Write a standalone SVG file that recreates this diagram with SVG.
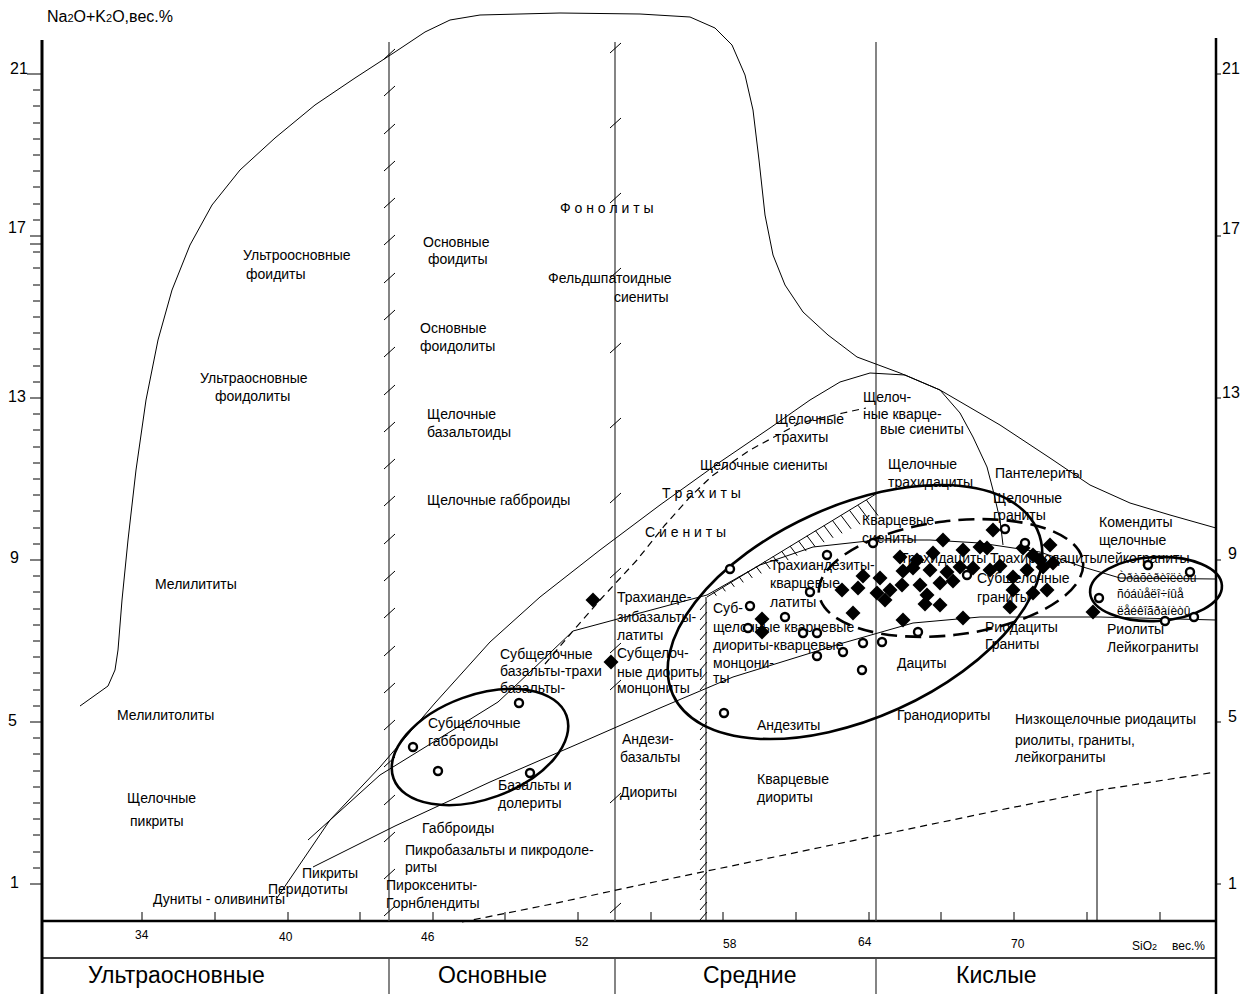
<svg xmlns="http://www.w3.org/2000/svg" width="1249" height="994" viewBox="0 0 1249 994">
<style>
text{font-family:"Liberation Sans",Arial,sans-serif;fill:#000}
.l{font-size:14px}
.s{font-size:12px}
.ax{font-size:16px}
.big{font-size:23px}
.thin{fill:none;stroke:#000;stroke-width:1}
.grid{fill:none;stroke:#444;stroke-width:1.3}
.dash{fill:none;stroke:#000;stroke-width:1.2;stroke-dasharray:7 5}
.ell{fill:none;stroke:#000;stroke-width:2.6}
.elld{fill:none;stroke:#000;stroke-width:2.6;stroke-dasharray:16 8}
.dm{fill:#000}
.ci{fill:#fff;stroke:#000;stroke-width:2.4}
</style>
<defs>
<polygon id="d" points="0,-7.5 7.5,0 0,7.5 -7.5,0"/>
<circle id="c" r="4"/>
</defs>
<rect width="1249" height="994" fill="#fff"/>

<g id="axes">
<line x1="42" y1="40" x2="42" y2="994" stroke="#000" stroke-width="3"/>
<line x1="1216" y1="38" x2="1216" y2="994" stroke="#000" stroke-width="2.5"/>
<line x1="42" y1="921" x2="1216" y2="921" stroke="#000" stroke-width="2.5"/>
<line x1="42" y1="958" x2="1216" y2="958" stroke="#000" stroke-width="1.5"/>
<path class="thin" d="M27,74H43M30,236H43M30,244H43M30,398H43M30,560H43M30,722H43M30,884H43"/>
<path class="thin" d="M33,90H40M33,106H40M33,123H40M33,139H40M33,155H40M33,171H40M33,187H40M33,204H40M33,220H40M33,252H40M33,268H40M33,285H40M33,301H40M33,317H40M33,333H40M33,349H40M33,366H40M33,382H40M33,414H40M33,430H40M33,447H40M33,463H40M33,479H40M33,495H40M33,511H40M33,528H40M33,544H40M33,576H40M33,592H40M33,609H40M33,625H40M33,641H40M33,657H40M33,673H40M33,690H40M33,706H40M33,738H40M33,754H40M33,771H40M33,787H40M33,803H40M33,819H40M33,835H40M33,852H40M33,868H40"/>
<path class="thin" d="M1216,74H1221M1216,236H1221M1216,398H1221M1216,560H1221M1216,722H1221M1216,884H1221"/>
<path class="thin" d="M142,912V921M215,912V921M288,912V921M360,912V921M433,912V921M505,912V921M578,912V921M651,912V921M723,912V921M796,912V921M869,912V921M941,912V921M1014,912V921M1087,912V921M1160,912V921"/>
<text class="ax" x="47" y="22">Na<tspan font-size="11">2</tspan>O+K<tspan font-size="11">2</tspan>O,вес.%</text>
<text class="ax" x="10" y="74">21</text>
<text class="ax" x="8" y="233">17</text>
<text class="ax" x="8" y="402">13</text>
<text class="ax" x="10" y="563">9</text>
<text class="ax" x="8" y="726">5</text>
<text class="ax" x="10" y="888">1</text>
<text class="ax" x="1222" y="74">21</text>
<text class="ax" x="1222" y="234">17</text>
<text class="ax" x="1222" y="398">13</text>
<text class="ax" x="1228" y="559">9</text>
<text class="ax" x="1228" y="722">5</text>
<text class="ax" x="1228" y="889">1</text>
<text class="s" x="135" y="939">34</text>
<text class="s" x="279" y="941">40</text>
<text class="s" x="421" y="941">46</text>
<text class="s" x="575" y="946">52</text>
<text class="s" x="723" y="948">58</text>
<text class="s" x="858" y="946">64</text>
<text class="s" x="1011" y="948">70</text>
<text class="s" x="1132" y="950">SiO<tspan font-size="9">2</tspan></text>
<text class="s" x="1172" y="950">вес.%</text>
<text class="big" x="88" y="983">Ультраосновные</text>
<text class="big" x="438" y="983">Основные</text>
<text class="big" x="703" y="983">Средние</text>
<text class="big" x="956" y="983">Кислые</text>
</g>

<g id="verticals">
<path class="grid" d="M389,42V921M389,958V994M615,42V921M615,958V994M876,42V921M876,958V994"/>
<path class="thin" d="M1097,790V921"/>
<path class="thin" d="M384,59L395,49M384,96L395,86M384,134L395,124M384,171L395,161M384,208L395,198M384,245L395,235M384,283L395,273M384,320L395,310M384,357L395,347M384,395L395,385M384,432L395,422M384,469L395,459M384,506L395,496M384,544L395,534M384,581L395,571M384,618L395,608M384,656L395,646M384,693L395,683M384,730L395,720M384,767L395,757M384,805L395,795M384,842L395,832M384,879L395,869M384,916L395,906"/>
<path class="thin" d="M610,53L621,43M610,128L621,118M610,203L621,193M610,278L621,268M610,353L621,343M610,428L621,418M610,503L621,493M610,578L621,568M610,653L621,643M610,690L621,680M610,803L621,793M610,913L621,903"/>
</g>

<g id="boundaries">
<path class="thin" d="M80,706L108,686L115,670L118,650L122,600L128,540L136,470L146,400L158,340L172,290L190,245L212,205L240,170L275,138L315,105L355,78L395,52L425,32L450,20L480,15L560,13L640,14L690,17L715,28L732,45L745,75L753,110L759,160L765,215L773,255L785,285L803,312L828,335L857,357L900,373L940,390L1000,425L1050,458L1090,485L1130,503L1170,515L1216,528"/>
<path class="thin" d="M277,898L330,820L380,767L435,703L490,642L540,597L600,550L660,505L720,462L770,428L810,400L840,382L870,373L905,375L940,390"/>
<path class="thin" d="M940,390L960,413L973,437L987,467L993,490L1000,520L1003,545"/>
<path class="dash" d="M545,664L573,631L600,600L637,560L665,525L690,497L712,476L750,450L800,423L843,413L866,408"/>
<path class="thin" d="M308,840L380,775L440,738L498,702L530,672L573,631L707,595"/>
<path class="thin" d="M707,595L760,565L813,547L877,540L930,540L980,543L1040,552L1083,567L1120,578L1216,579"/>
<path class="thin" d="M313,867L395,826L490,782L580,743L660,708L733,677L843,643L913,623L980,617L1100,617L1216,620"/>
<path class="dash" d="M462,922L547,905L640,885L760,860L880,835L1000,810L1100,790L1216,772"/>
<path class="thin" d="M707,597L876,494"/>
<path class="thin" d="M706,597V921"/>
<path class="thin" d="M713.5,591.9L716.4,595.7M722,586.8L725.4,591.3M730.5,581.7L734.3,586.8M739,576.6L743.3,582.4M747.5,571.5L752.3,577.9M756,566.4L761.3,573.4M764.5,561.3L770.3,569M773,556.2L779.2,564.5M781.5,551.1L788.2,560.1M790,546L797.2,555.6M798.5,540.9L806.2,551.1M807,535.8L815.2,546.7M815.5,530.7L824.1,542.2M824,525.6L833.1,537.8M832.5,520.5L842.1,533.3M841,515.4L851.1,528.8M849.5,510.3L860.1,524.4M858,505.2L869,519.9M866.5,500.1L878,515.5"/>
<path class="thin" d="M700,610L707,602M700,620L707,612M700,630L707,622M700,640L707,632M700,650L707,642M700,660L707,652M700,670L707,662M700,680L707,672M700,690L707,682M700,700L707,692M700,710L707,702M700,720L707,712M700,730L707,722M700,740L707,732M700,750L707,742M700,760L707,752M700,770L707,762M700,780L707,772M700,790L707,782M700,800L707,792M700,810L707,802M700,820L707,812M700,830L707,822M700,840L707,832M700,850L707,842M700,860L707,852M700,870L707,862M700,880L707,872M700,890L707,882M700,900L707,892M700,910L707,902M700,920L707,912"/>
</g>

<g id="labels">
<text class="l" x="243" y="260">Ультроосновные</text>
<text class="l" x="246" y="279">фоидиты</text>
<text class="l" x="200" y="383">Ультраосновные</text>
<text class="l" x="215" y="401">фоидолиты</text>
<text class="l" x="155" y="589">Мелилититы</text>
<text class="l" x="117" y="720">Мелилитолиты</text>
<text class="l" x="127" y="803">Щелочные</text>
<text class="l" x="130" y="826">пикриты</text>
<text class="l" x="153" y="904">Дуниты - оливиниты</text>
<text class="l" x="268" y="894">Перидотиты</text>
<text class="l" x="302" y="878">Пикриты</text>
<text class="l" x="386" y="890">Пироксениты-</text>
<text class="l" x="386" y="908">Горнблендиты</text>
<text class="l" x="405" y="855">Пикробазальты и пикродоле-</text>
<text class="l" x="405" y="872">риты</text>
<text class="l" x="422" y="833">Габброиды</text>
<text class="l" x="498" y="790">Базальты и</text>
<text class="l" x="498" y="808">долериты</text>
<text class="l" x="428" y="728">Субщелочные</text>
<text class="l" x="428" y="746">габброиды</text>
<text class="l" x="500" y="659">Субщелочные</text>
<text class="l" x="500" y="676">базальты-трахи</text>
<text class="l" x="500" y="693">базальты-</text>
<text class="l" x="423" y="247">Основные</text>
<text class="l" x="428" y="264">фоидиты</text>
<text class="l" x="420" y="333">Основные</text>
<text class="l" x="420" y="351">фоидолиты</text>
<text class="l" x="427" y="419">Щелочные</text>
<text class="l" x="427" y="437">базальтоиды</text>
<text class="l" x="427" y="505">Щелочные габброиды</text>
<text class="l" x="560" y="213">Ф о н о л и т ы</text>
<text class="l" x="548" y="283">Фельдшпатоидные</text>
<text class="l" x="614" y="302">сиениты</text>
<text class="l" x="775" y="424">Щелочные</text>
<text class="l" x="775" y="442">трахиты</text>
<text class="l" x="700" y="470">Щелочные сиениты</text>
<text class="l" x="662" y="498">Т р а х и т ы</text>
<text class="l" x="645" y="537">С и е н и т ы</text>
<text class="l" x="863" y="402">Щелоч-</text>
<text class="l" x="863" y="419">ные кварце-</text>
<text class="l" x="880" y="434">вые сиениты</text>
<text class="l" x="888" y="469">Щелочные</text>
<text class="l" x="888" y="487">трахидациты</text>
<text class="l" x="995" y="478">Пантелериты</text>
<text class="l" x="993" y="503">Щелочные</text>
<text class="l" x="993" y="520">граниты</text>
<text class="l" x="1099" y="527">Комендиты</text>
<text class="l" x="1099" y="545">щелочные</text>
<text class="l" x="1099" y="563">лейкограниты</text>
<text class="s" x="1117" y="582">Òðàõèðèîëèòû</text>
<text class="s" x="1117" y="598">ñóáùåëî÷íûå</text>
<text class="s" x="1117" y="615">ëåéêîãðàíèòû</text>
<text class="l" x="1107" y="634">Риолиты</text>
<text class="l" x="1107" y="652">Лейкограниты</text>
<text class="l" x="985" y="632">Риодациты</text>
<text class="l" x="985" y="649">Граниты</text>
<text class="l" x="897" y="668">Дациты</text>
<text class="l" x="897" y="720">Гранодиориты</text>
<text class="l" x="1015" y="724">Низкощелочные риодациты</text>
<text class="l" x="1015" y="745">риолиты, граниты,</text>
<text class="l" x="1015" y="762">лейкограниты</text>
<text class="l" x="862" y="525">Кварцевые</text>
<text class="l" x="862" y="543">сиениты</text>
<text class="l" x="900" y="563">Трахидациты</text>
<text class="l" x="990" y="563">Трахириодациты</text>
<text class="l" x="977" y="583">Субщелочные</text>
<text class="l" x="977" y="602">граниты</text>
<text class="l" x="770" y="570">Трахиандезиты-</text>
<text class="l" x="770" y="588">кварцевые</text>
<text class="l" x="770" y="607">латиты</text>
<text class="l" x="713" y="613">Суб-</text>
<text class="l" x="713" y="632">щелочные кварцевые</text>
<text class="l" x="713" y="650">диориты-кварцевые</text>
<text class="l" x="713" y="668">монцони-</text>
<text class="l" x="713" y="683">ты</text>
<text class="l" x="617" y="602">Трахианде-</text>
<text class="l" x="617" y="622">зибазальты-</text>
<text class="l" x="617" y="640">латиты</text>
<text class="l" x="617" y="658">Субщелоч-</text>
<text class="l" x="617" y="677">ные диориты</text>
<text class="l" x="617" y="693">монцониты</text>
<text class="l" x="757" y="730">Андезиты</text>
<text class="l" x="622" y="744">Андези-</text>
<text class="l" x="620" y="762">базальты</text>
<text class="l" x="620" y="797">Диориты</text>
<text class="l" x="757" y="784">Кварцевые</text>
<text class="l" x="757" y="802">диориты</text>
</g>

<g id="fields">
<ellipse id="ell-gabbro" class="ell" cx="480" cy="747" rx="92" ry="52" transform="rotate(-20 480 747)"/>
<ellipse id="ell-mid" class="ell" cx="855" cy="612" rx="200" ry="106" transform="rotate(-24.4 855 612)"/>
<ellipse id="ell-cluster" class="elld" cx="951" cy="578" rx="133" ry="57" transform="rotate(-7 951 578)"/>
<ellipse id="ell-right" class="ell" cx="1156" cy="589" rx="66" ry="32" transform="rotate(-3 1156 589)"/>
</g>

<g id="samples-diamonds" class="dm">
<use href="#d" x="943" y="540"/><use href="#d" x="980" y="547"/><use href="#d" x="993" y="530"/><use href="#d" x="1050" y="545"/><use href="#d" x="963" y="550"/>
<use href="#d" x="900" y="557"/><use href="#d" x="917" y="560"/><use href="#d" x="933" y="553"/><use href="#d" x="987" y="548"/><use href="#d" x="1023" y="548"/><use href="#d" x="1033" y="555"/><use href="#d" x="1040" y="560"/>
<use href="#d" x="863" y="576"/><use href="#d" x="880" y="578"/><use href="#d" x="903" y="571"/><use href="#d" x="913" y="568"/><use href="#d" x="930" y="570"/><use href="#d" x="947" y="572"/><use href="#d" x="960" y="567"/><use href="#d" x="973" y="568"/><use href="#d" x="990" y="570"/><use href="#d" x="1000" y="566"/><use href="#d" x="1013" y="577"/><use href="#d" x="1027" y="570"/><use href="#d" x="1043" y="567"/><use href="#d" x="1053" y="563"/>
<use href="#d" x="842" y="590"/><use href="#d" x="858" y="588"/><use href="#d" x="877" y="593"/><use href="#d" x="890" y="590"/><use href="#d" x="902" y="585"/><use href="#d" x="920" y="585"/><use href="#d" x="927" y="595"/><use href="#d" x="940" y="583"/><use href="#d" x="953" y="581"/><use href="#d" x="1013" y="590"/><use href="#d" x="1033" y="593"/><use href="#d" x="1047" y="590"/>
<use href="#d" x="853" y="613"/><use href="#d" x="903" y="620"/><use href="#d" x="940" y="605"/><use href="#d" x="963" y="618"/><use href="#d" x="1010" y="607"/><use href="#d" x="885" y="600"/><use href="#d" x="925" y="604"/>
<use href="#d" x="762" y="619"/><use href="#d" x="762" y="632"/><use href="#d" x="1093" y="612"/><use href="#d" x="593" y="600"/><use href="#d" x="611" y="662"/>
</g>

<g id="samples-circles" class="ci">
<use href="#c" x="413" y="747"/><use href="#c" x="438" y="771"/><use href="#c" x="519" y="703"/><use href="#c" x="530" y="773"/>
<use href="#c" x="730" y="569"/><use href="#c" x="827" y="555"/><use href="#c" x="810" y="592"/><use href="#c" x="750" y="606"/><use href="#c" x="785" y="617"/><use href="#c" x="748" y="628"/><use href="#c" x="803" y="633"/><use href="#c" x="817" y="633"/><use href="#c" x="863" y="643"/><use href="#c" x="882" y="642"/><use href="#c" x="817" y="656"/><use href="#c" x="843" y="652"/><use href="#c" x="862" y="670"/><use href="#c" x="918" y="632"/><use href="#c" x="873" y="543"/><use href="#c" x="967" y="575"/><use href="#c" x="1005" y="529"/><use href="#c" x="1025" y="543"/><use href="#c" x="724" y="713"/>
<use href="#c" x="1099" y="598"/><use href="#c" x="1148" y="565"/><use href="#c" x="1190" y="572"/><use href="#c" x="1165" y="621"/><use href="#c" x="1194" y="617"/>
</g>
</svg>
